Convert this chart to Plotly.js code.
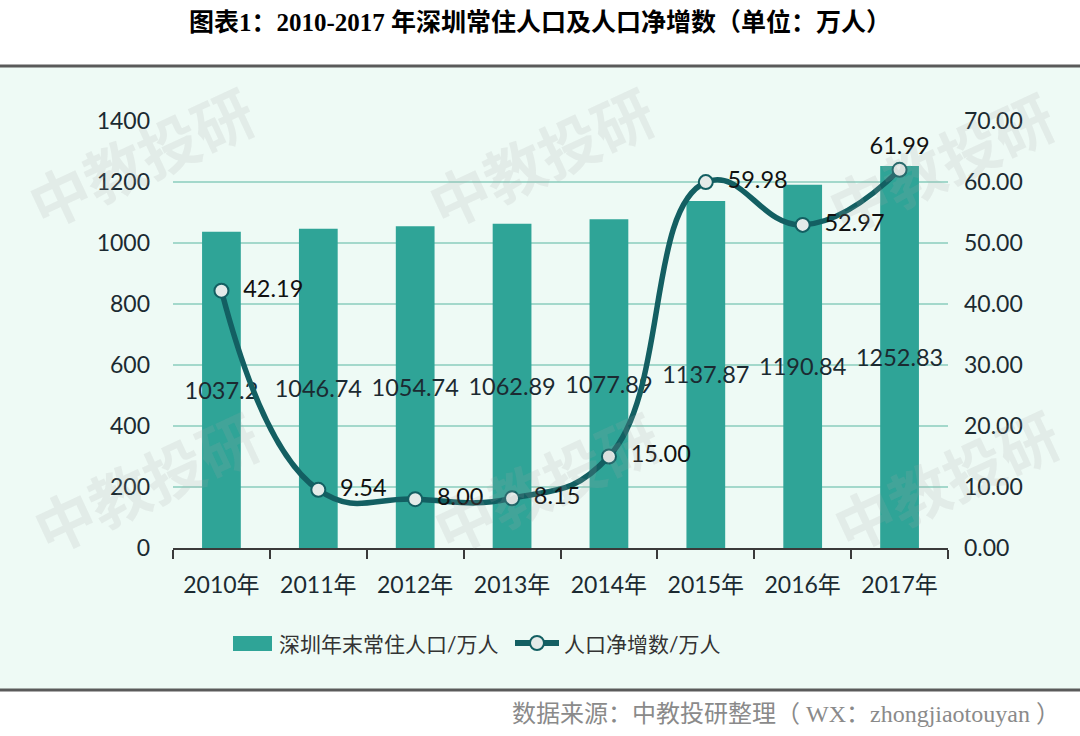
<!DOCTYPE html>
<html>
<head>
<meta charset="utf-8">
<script src="https://cdn.plot.ly/plotly-3.0.1.min.js"></script>
<style>html,body{margin:0;padding:0;background:#fff;}#chart{width:1080px;height:736px;}</style>
</head>
<body>
<div id="chart"></div>
<script>
// ---- data ----
const years = ['2010年','2011年','2012年','2013年','2014年','2015年','2016年','2017年'];
const population = [1037.2, 1046.74, 1054.74, 1062.89, 1077.89, 1137.87, 1190.84, 1252.83];
const netIncrease = [42.19, 9.54, 8.00, 8.15, 15.00, 59.98, 52.97, 61.99];
const netLabelPos = ['middle right','middle right','middle right','middle right','middle right','middle right','middle right','top center'];
const seriesNames = ['深圳年末常住人口/万人', '人口净增数/万人'];
const titleText = '<b>图表1：2010-2017 年深圳常住人口及人口净增数（单位：万人）</b>';
const sourceText = '数据来源：中教投研整理（ WX：zhongjiaotouyan ）';
const watermark = '中教投研';

// ---- layout geometry (pixels) ----
const W = 1080, H = 736;
const ML = 173, MR = 132, MT = 121, MB = 188;
const PW = W - ML - MR, PH = H - MT - MB;
const X = px => (px - ML) / PW;
const Y = py => (H - MB - py) / PH;

const BAR = '#2fa497';
const LINE = '#135f62';
const TXT = '#1b2a31';
const FONT = 'Lato, "Noto Sans CJK SC", sans-serif';

const traces = [
  {
    type: 'bar', x: years, y: population, name: seriesNames[0],
    marker: {color: BAR},
    text: population.map(String), textposition: 'inside', insidetextanchor: 'middle',
    constraintext: 'none', textangle: 0,
    insidetextfont: {family: FONT, size: 23.5, color: TXT},
    hoverinfo: 'x+y', showlegend: false
  },
  {
    type: 'scatter', mode: 'lines+markers+text', x: years, y: netIncrease, yaxis: 'y2',
    name: seriesNames[1],
    line: {color: LINE, width: 5.5, shape: 'spline', smoothing: 1.3},
    marker: {symbol: 'circle', size: 14, color: '#e4ebe9', line: {color: LINE, width: 2}},
    text: netIncrease.map((v, i) => (netLabelPos[i] === 'middle right' ? '  ' : '') + v.toFixed(2)),
    textposition: netLabelPos,
    textfont: {family: FONT, size: 23.5, color: '#111'},
    cliponaxis: false, showlegend: false
  }
];

const shapes = [
  {type: 'rect', xref: 'paper', yref: 'paper', x0: X(0), x1: X(W), y0: Y(690), y1: Y(67),
   fillcolor: '#eefaf5', line: {width: 0}, layer: 'below'},
  {type: 'line', xref: 'paper', yref: 'paper', x0: X(0), x1: X(W), y0: Y(66), y1: Y(66),
   line: {color: '#5a5a5a', width: 3}},
  {type: 'line', xref: 'paper', yref: 'paper', x0: X(0), x1: X(W), y0: Y(690), y1: Y(690),
   line: {color: '#5a5a5a', width: 3}},
  // legend swatches
  {type: 'rect', xref: 'paper', yref: 'paper', x0: X(233), x1: X(272), y0: Y(651), y1: Y(636),
   fillcolor: BAR, line: {width: 0}},
  {type: 'line', xref: 'paper', yref: 'paper', x0: X(515), x1: X(559), y0: Y(643), y1: Y(643),
   line: {color: LINE, width: 6}},
  {type: 'circle', xref: 'paper', yref: 'paper', x0: X(530), x1: X(544), y0: Y(650), y1: Y(636),
   fillcolor: '#e4ebe9', line: {color: LINE, width: 2}}
];

const wmPos = [[140,155],[540,155],[940,160],[145,480],[545,480],[945,478]];
const annotations = wmPos.map(p => ({
  xref: 'paper', yref: 'paper', x: X(p[0]), y: Y(p[1]), text: '<b>' + watermark + '</b>',
  showarrow: false, textangle: -25, font: {family: '"Noto Sans CJK SC"', size: 60, color: 'rgba(165,165,165,0.16)'},
  xanchor: 'center', yanchor: 'middle'
}));
annotations.push(
  {xref: 'paper', yref: 'paper', x: X(277), y: Y(643), xanchor: 'left', yanchor: 'middle', showarrow: false,
   text: seriesNames[0], font: {family: FONT, size: 21, color: '#333'}},
  {xref: 'paper', yref: 'paper', x: X(562), y: Y(643), xanchor: 'left', yanchor: 'middle', showarrow: false,
   text: seriesNames[1], font: {family: FONT, size: 21, color: '#333'}},
  {xref: 'paper', yref: 'paper', x: X(1062), y: Y(714), xanchor: 'right', yanchor: 'middle', showarrow: false,
   text: sourceText, font: {family: '"Liberation Serif", "Noto Sans CJK SC", serif', size: 24, color: '#8a8a8a'}}
);

const layout = {
  width: W, height: H,
  margin: {l: ML, r: MR, t: MT, b: MB, pad: 0},
  paper_bgcolor: '#ffffff', plot_bgcolor: 'rgba(0,0,0,0)',
  title: {text: titleText, xref: 'container', x: 0.5, xanchor: 'center', yref: 'container', y: 1 - 22 / H, yanchor: 'middle',
          font: {family: '"Liberation Serif", "Noto Sans CJK SC", serif', size: 25, color: '#000'}},
  bargap: 0.6,
  xaxis: {
    type: 'category', showline: true, linecolor: '#3a3a3a', linewidth: 2,
    ticks: 'outside', ticklen: 9, tickwidth: 2, tickcolor: '#3a3a3a', tickson: 'boundaries',
    tickfont: {family: FONT, size: 23, color: TXT}, ticklabelstandoff: 15, showgrid: false, zeroline: false
  },
  yaxis: {
    range: [0, 1400], dtick: 200, showgrid: true, gridcolor: '#a3d8cb', gridwidth: 1.5,
    zeroline: false, showline: false, tickfont: {family: FONT, size: 23, color: TXT}, ticklabelstandoff: 22
  },
  yaxis2: {
    range: [0, 70], dtick: 10, tickformat: '.2f', overlaying: 'y', side: 'right',
    showgrid: false, zeroline: false, showline: false, tickfont: {family: FONT, size: 23, color: TXT}, ticklabelstandoff: 15
  },
  shapes: shapes,
  annotations: annotations,
  showlegend: false
};

Plotly.newPlot('chart', traces, layout, {displayModeBar: false, staticPlot: true});
</script>
</body>
</html>
